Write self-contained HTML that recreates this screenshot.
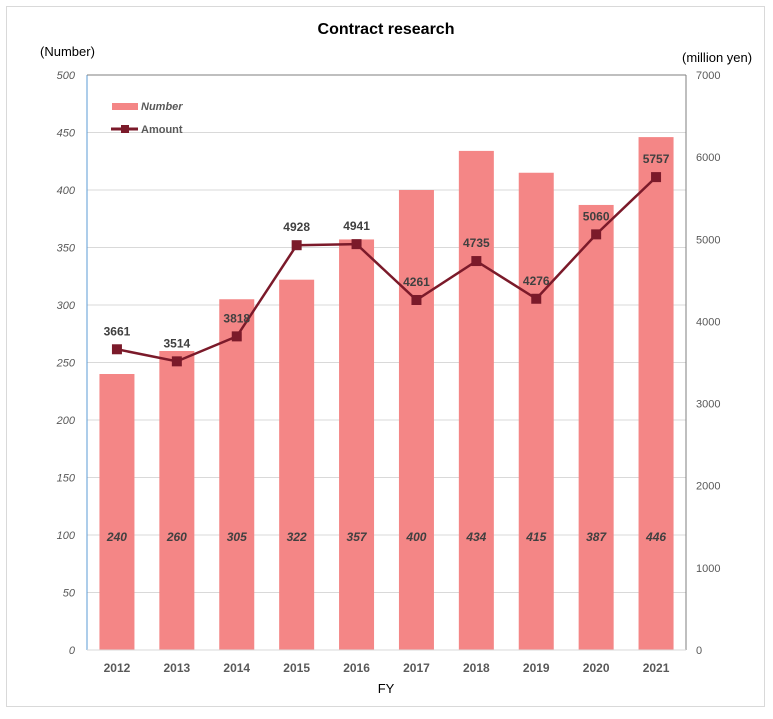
<!DOCTYPE html>
<html><head><meta charset="utf-8"><style>
body{margin:0;background:#fff;font-family:"Liberation Sans",Arial,sans-serif}
</style></head><body>
<svg width="773" height="714" xmlns="http://www.w3.org/2000/svg">
<rect x="6.5" y="6.5" width="758" height="700" fill="#fff" stroke="#d9d9d9"/>
<text x="386" y="34" text-anchor="middle" font-size="16" font-weight="bold" fill="#000">Contract research</text>
<text x="40" y="56" font-size="13" fill="#000">(Number)</text>
<text x="682" y="62" font-size="13" fill="#000">(million yen)</text>
<text x="386" y="693" text-anchor="middle" font-size="13" fill="#000">FY</text>
<g id="grid"></g><g id="bars"></g><g id="axes"></g><g id="line"></g>
<g>
<rect x="112" y="103" width="26" height="7" fill="#f48686"/>
<text x="141" y="110" font-size="11" font-style="italic" font-weight="bold" fill="#595959">Number</text>
<line x1="111" y1="129" x2="138" y2="129" stroke="#7b1a2a" stroke-width="3"/>
<rect x="121" y="125" width="8" height="8" fill="#7b1a2a"/>
<text x="141" y="133" font-size="11" font-weight="bold" fill="#595959">Amount</text>
</g>
</svg>
<script>
const years=["2012","2013","2014","2015","2016","2017","2018","2019","2020","2021"];
const numbers=[240,260,305,322,357,400,434,415,387,446];
const amounts=[3661,3514,3818,4928,4941,4261,4735,4276,5060,5757];
const leftTicks=[0,50,100,150,200,250,300,350,400,450,500];
const rightTicks=[0,1000,2000,3000,4000,5000,6000,7000];
const NS="http://www.w3.org/2000/svg";
const L=87,R=686,T=75,B=650;
const yL=v=>B-(v/500)*(B-T);
const yR=v=>B-(v/7000)*(B-T);
const xC=i=>L+(R-L)/years.length*(i+0.5);
function mk(tag,attrs,parent,txt){const e=document.createElementNS(NS,tag);for(const k in attrs)e.setAttribute(k,attrs[k]);if(txt!==undefined)e.textContent=txt;document.getElementById(parent).appendChild(e);return e;}
leftTicks.forEach(t=>{
 if(t>0){const g=mk('line',{x1:L,x2:R,y1:yL(t),y2:yL(t),stroke:'#d9d9d9'},'grid');
 
 }
 const e=mk('text',{x:L-12,y:yL(t)+4,'text-anchor':'end','font-size':11,'font-style':'italic',fill:'#595959'},'axes',t);
 
 
});
rightTicks.forEach(t=>{
 const e=mk('text',{x:R+10,y:yR(t)+4,'font-size':11,fill:'#595959'},'axes',t);
 
 
});
const la=mk('line',{x1:L,x2:L,y1:T,y2:B,stroke:'#5b9bd5'},'axes');


const ra=mk('line',{x1:R,x2:R,y1:T,y2:B,stroke:'#7f7f7f'},'axes');


const ta=mk('line',{x1:L,x2:R,y1:T,y2:T,stroke:'#7f7f7f'},'axes');


const xa=mk('line',{x1:L,x2:R,y1:B,y2:B,stroke:'#d9d9d9'},'axes');


const bw=35;
years.forEach((y,i)=>{
 const b=mk('rect',{x:xC(i)-bw/2,y:yL(numbers[i]),width:bw,height:B-yL(numbers[i]),fill:'#f48686'},'bars');
 
 
 const bl=mk('text',{x:xC(i),y:541,'text-anchor':'middle','font-size':12,'font-style':'italic','font-weight':'bold',fill:'#404040'},'bars',numbers[i]);
 
 
 const xl=mk('text',{x:xC(i),y:672,'text-anchor':'middle','font-size':12,'font-weight':'bold',fill:'#595959'},'axes',y);
 
 
});
const pts=amounts.map((a,i)=>xC(i)+','+yR(a)).join(' ');
const pl=mk('polyline',{points:pts,fill:'none',stroke:'#7b1a2a','stroke-width':2.5},'line');


amounts.forEach((a,i)=>{
 const m=mk('rect',{x:xC(i)-5,y:yR(a)-5,width:10,height:10,fill:'#7b1a2a'},'line');
 
 
 const t=mk('text',{x:xC(i),y:yR(a)-14,'text-anchor':'middle','font-size':12,'font-weight':'bold',fill:'#404040'},'line',a);
 
 
});
</script>
</body></html>
